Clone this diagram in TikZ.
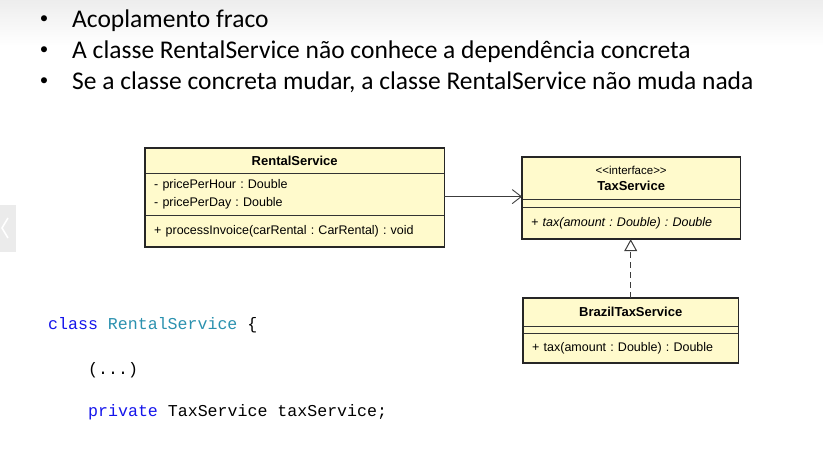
\documentclass[tikz,border=0pt]{standalone}
\usepackage{fontspec}
\setmainfont{Carlito}
\newfontfamily\umlfont{Liberation Sans}
\newfontfamily\codefont{Liberation Mono}
\usetikzlibrary{positioning,arrows.meta}
\frenchspacing

\definecolor{umlfill}{RGB}{255,250,204}
\definecolor{kwblue}{RGB}{20,20,235}
\definecolor{typeteal}{RGB}{43,145,175}
\definecolor{linkgray}{RGB}{60,60,60}

\begin{document}
\begin{tikzpicture}[
    x=1pt, y=-1pt,
    node distance=0pt,
    bullettext/.style={anchor=base west, inner sep=0pt, font=\fontsize{25.5}{25.5}\selectfont},
    bulletdot/.style={anchor=center, inner sep=0pt, font=\fontsize{17}{17}\selectfont},
    codeline/.style={anchor=base west, inner sep=0pt, font=\codefont\fontsize{16.6}{16.6}\selectfont},
    umltitle/.style={rectangle, fill=umlfill, inner sep=0pt, align=center, font=\umlfont\fontsize{13}{16}\selectfont},
    umlpart/.style={rectangle, fill=umlfill, inner xsep=9pt, inner ysep=0pt, align=left, font=\umlfont\fontsize{12.5}{18}\selectfont},
    umlframe/.style={draw=black!85, line width=1.8pt},
    umlsep/.style={draw=black!80, line width=0.8pt},
    assoc/.style={draw=linkgray, line width=0.9pt, -{Straight Barb[length=9pt,width=14pt,line width=0.9pt]}},
    realize/.style={draw=linkgray, line width=1pt, dash pattern=on 6pt off 4pt, -{Triangle[open,length=12pt,width=13pt,line width=1pt,fill=white]}}
    ]

    \useasboundingbox (0,0) rectangle (823,457);
    \shade[top color=black!7, bottom color=white] (0,0) rectangle (823,46);

    % slide tab on the left
    \fill[black!8] (0,205) rectangle (16,252);
    \draw[white, line width=1.6pt] (8,218) -- (2,228) -- (8,238);

    % bullets
    \node[bullettext] (b1) at (72,28) {Acoplamento fraco};
    \node[bullettext] (b2) at (72,59) {A classe RentalService não conhece a dependência concreta};
    \node[bullettext] (b3) at (72,90) {Se a classe concreta mudar, a classe RentalService não muda nada};
    \foreach \n in {b1,b2,b3}
      \node[bulletdot] at (\n.base west) [xshift=-28pt, yshift=8pt] {•};

    % RentalService
    \node[umltitle, anchor=north west, minimum width=299pt, minimum height=25pt] (rentT) at (145,148) {\bfseries RentalService};
    \node[umlpart, below=of rentT, text width=281pt, minimum height=42pt] (rentA) {- pricePerHour : Double\\- pricePerDay : Double};
    \node[umlpart, below=of rentA, text width=281pt, minimum height=31pt] (rentM) {+ processInvoice(carRental : CarRental) : void};
    \draw[umlsep] (rentA.north west) -- (rentA.north east) (rentM.north west) -- (rentM.north east);
    \draw[umlframe] (rentT.north west) rectangle (rentM.south east);

    % TaxService
    \node[umltitle, anchor=north west, minimum width=218pt, minimum height=42pt] (taxT) at (522,157) {{\fontsize{11.5}{13}\selectfont <<interface>>}\\\bfseries TaxService};
    \node[umlpart, below=of taxT, text width=200pt, minimum height=8pt] (taxA) {};
    \node[umlpart, below=of taxA, text width=200pt, minimum height=31pt] (taxM) {\itshape + tax(amount : Double) : Double};
    \draw[umlsep] (taxA.north west) -- (taxA.north east) (taxM.north west) -- (taxM.north east);
    \draw[umlframe] (taxT.north west) rectangle (taxM.south east);

    % BrazilTaxService
    \node[umltitle, anchor=north west, minimum width=215pt, minimum height=28pt] (brT) at (523,298) {\bfseries BrazilTaxService};
    \node[umlpart, below=of brT, text width=197pt, minimum height=7pt] (brA) {};
    \node[umlpart, below=of brA, text width=197pt, minimum height=29pt] (brM) {+ tax(amount : Double) : Double};
    \draw[umlsep] (brA.north west) -- (brA.north east) (brM.north west) -- (brM.north east);
    \draw[umlframe] (brT.north west) rectangle (brM.south east);

    % links
    \draw[assoc] ([yshift=-2pt]rentA.east) -- ([yshift=-2pt]rentA.east -| taxT.west);
    \draw[realize] (brT.north) -- (brT.north |- taxM.south);

    % code
    \node[codeline] (c1) at (48,330) {\textcolor{kwblue}{class} \textcolor{typeteal}{RentalService} \{};
    \node[codeline] (c2) at (88,375) {(...)};
    \node[codeline] (c3) at (88,417) {\textcolor{kwblue}{private} TaxService taxService;};

\end{tikzpicture}
\end{document}
